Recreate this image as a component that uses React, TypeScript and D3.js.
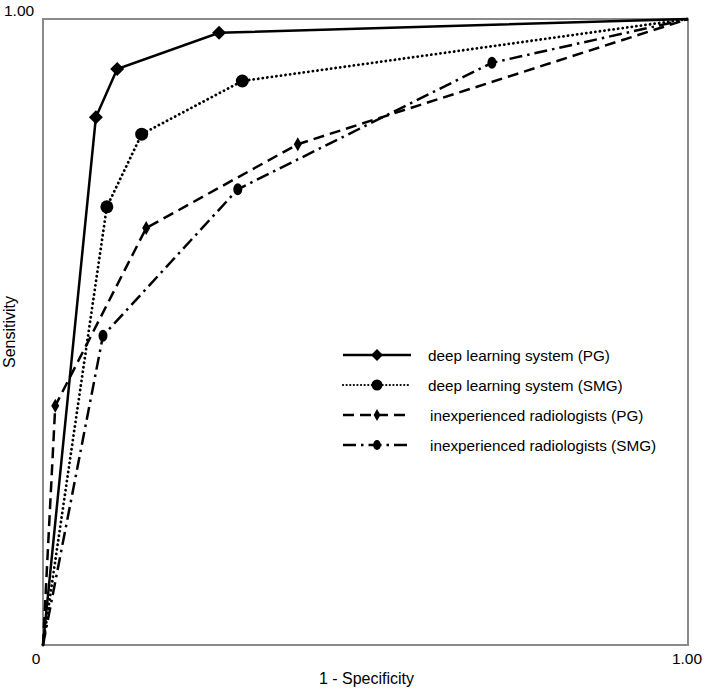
import { useRef, useEffect } from 'react';
import * as d3 from 'd3';

const W = 712;
const H = 697;
const margin = { top: 19, left: 43, right: 24, bottom: 52 };

// [1 - specificity, sensitivity]
const dlsPG = [[0, 0], [0.082, 0.843], [0.115, 0.92], [0.273, 0.978], [1, 1]];
const dlsSMG = [[0, 0], [0.099, 0.7], [0.153, 0.816], [0.309, 0.901], [1, 1]];
const radPG = [[0, 0], [0.019, 0.382], [0.16, 0.666], [0.395, 0.8], [1, 1]];
const radSMG = [[0, 0], [0.093, 0.494], [0.302, 0.728], [0.696, 0.93], [1, 1]];

const seriesNames = [
  'deep learning system (PG)',
  'deep learning system (SMG)',
  'inexperienced radiologists (PG)',
  'inexperienced radiologists (SMG)',
];

const styles = [
  { dash: null, width: 2.5, marker: 'diamond', cap: 'butt' },
  { dash: '0.1,4.5', width: 2.8, marker: 'circle', cap: 'round' },
  { dash: '11,6', width: 2.5, marker: 'thin', cap: 'butt' },
  { dash: '13,5,2.5,5', width: 2.5, marker: 'ellipse', cap: 'butt' },
];

const drawMarker = (g, kind, x, y, k = 1) => {
  if (kind === 'diamond') {
    const r = 7 * k;
    g.append('path')
      .attr('d', `M${x},${y - r}L${x + r},${y}L${x},${y + r}L${x - r},${y}Z`)
      .attr('fill', 'black');
  } else if (kind === 'circle') {
    g.append('circle').attr('cx', x).attr('cy', y).attr('r', 6.5 * k).attr('fill', 'black');
  } else if (kind === 'thin') {
    g.append('path')
      .attr('d', `M${x},${y - 7 * k}L${x + 4 * k},${y}L${x},${y + 7 * k}L${x - 4 * k},${y}Z`)
      .attr('fill', 'black');
  } else {
    g.append('ellipse').attr('cx', x).attr('cy', y).attr('rx', 4.5 * k).attr('ry', 6 * k).attr('fill', 'black');
  }
};

const RocChart = () => {
  const ref = useRef(null);

  useEffect(() => {
    document.body.style.margin = '0';
    const svg = d3.select(ref.current);
    svg.selectAll('*').remove();

    const x = d3.scaleLinear().domain([0, 1]).range([margin.left, W - margin.right]);
    const y = d3.scaleLinear().domain([0, 1]).range([H - margin.bottom, margin.top]);

    // frame
    svg
      .append('rect')
      .attr('x', x(0))
      .attr('y', y(1))
      .attr('width', x(1) - x(0))
      .attr('height', y(0) - y(1))
      .attr('fill', 'none')
      .attr('stroke', '#8a8a8a')
      .attr('stroke-width', 2);

    const font = '"Liberation Sans", Arial, sans-serif';

    // tick labels
    svg.append('text').text('1.00').attr('x', 4).attr('y', 16)
      .attr('font-family', font).attr('font-size', 15.5);
    svg.append('text').text('0').attr('x', 36).attr('y', 664).attr('text-anchor', 'middle')
      .attr('font-family', font).attr('font-size', 15.5);
    svg.append('text').text('1.00').attr('x', x(1) - 1).attr('y', 664).attr('text-anchor', 'middle')
      .attr('font-family', font).attr('font-size', 15.5);

    // axis titles
    svg.append('text').text('1 - Specificity').attr('x', (x(0) + x(1)) / 2 + 1).attr('y', 684)
      .attr('text-anchor', 'middle').attr('font-family', font).attr('font-size', 16);
    svg.append('text').text('Sensitivity')
      .attr('transform', `translate(15, ${(y(0) + y(1)) / 2}) rotate(-90)`)
      .attr('text-anchor', 'middle').attr('font-family', font).attr('font-size', 16);

    const line = d3.line().x((d) => x(d[0])).y((d) => y(d[1]));
    const all = [dlsPG, dlsSMG, radPG, radSMG];

    all.forEach((data, i) => {
      const s = styles[i];
      const g = svg.append('g');
      g.append('path')
        .attr('d', line(data))
        .attr('fill', 'none')
        .attr('stroke', 'black')
        .attr('stroke-width', s.width)
        .attr('stroke-linecap', s.cap)
        .attr('stroke-dasharray', s.dash);
      data.slice(1, -1).forEach((d) => drawMarker(g, s.marker, x(d[0]), y(d[1])));
    });

    // legend
    const legend = svg.append('g');
    seriesNames.forEach((name, i) => {
      const s = styles[i];
      const ly = 355 + i * 30;
      legend.append('line')
        .attr('x1', 343).attr('x2', 411).attr('y1', ly).attr('y2', ly)
        .attr('stroke', 'black')
        .attr('stroke-width', i === 1 ? 2.2 : s.width)
        .attr('stroke-linecap', s.cap)
        .attr('stroke-dasharray', i === 1 ? '0.1,3.5' : s.dash);
      drawMarker(legend, s.marker, 377, ly, 0.85);
      legend.append('text').text(name)
        .attr('x', i < 2 ? 428 : 430).attr('y', ly + 5.5)
        .attr('font-family', font).attr('font-size', 15.3);
    });
  }, []);

  return <svg ref={ref} width={W} height={H} style={{ display: 'block' }}></svg>;
};

export default function App() {
  return (
    <div style={{ background: 'white' }}>
      <RocChart />
    </div>
  );
}
